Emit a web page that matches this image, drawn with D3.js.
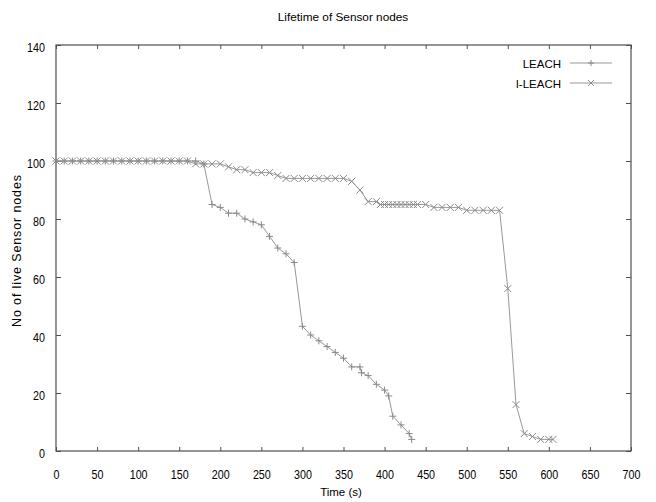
<!DOCTYPE html>
<html>
<head>
<meta charset="utf-8">
<script src="https://cdn.jsdelivr.net/npm/d3@7"></script>
<style>
  html, body { margin: 0; padding: 0; background: #fff; }
  svg { display: block; }
  text { font-family: "Liberation Sans", Arial, sans-serif; fill: #000; }
</style>
</head>
<body>
<svg id="chart" width="656" height="502"></svg>
<script>
// ---- data ----
const title = "Lifetime of Sensor nodes";
const xLabel = "Time (s)";
const yLabel = "No of live Sensor nodes";
const xTicks = [0, 50, 100, 150, 200, 250, 300, 350, 400, 450, 500, 550, 600, 650, 700];
const yTicks = [0, 20, 40, 60, 80, 100, 120, 140];

const leachTime = [0,10,20,30,40,50,60,70,80,90,100,110,120,130,140,150,160,170,180,
  190,200,210,220,230,240,250,260,270,280,290,300,310,320,330,340,350,360,370,372,380,390,400,405,410,420,430,433];
const leachNodes = [100,100,100,100,100,100,100,100,100,100,100,100,100,100,100,100,100,100,99,
  85,84,82,82,80,79,78,74,70,68,65,43,40,38,36,34,32,29,29,27,26,23,21,19,12,9,6,4];

const ileachTime = [0,10,20,30,40,50,60,70,80,90,100,110,120,130,140,150,160,170,180,190,200,
  210,220,230,240,250,260,270,280,290,300,310,320,330,340,350,360,370,380,390,
  395,400,405,410,415,420,425,430,435,440,450,460,470,480,490,500,510,520,530,540,
  550,560,570,580,590,600,605];
const ileachNodes = [100,100,100,100,100,100,100,100,100,100,100,100,100,100,100,100,100,99,99,99,99,
  98,97,97,96,96,96,95,94,94,94,94,94,94,94,94,93,90,86,86,
  85,85,85,85,85,85,85,85,85,85,85,84,84,84,84,83,83,83,83,83,
  56,16,6,5,4,4,4];

const seriesNames = ["LEACH", "I-LEACH"];

// ---- layout ----
const svg = d3.select("#chart");
const xS = d3.scaleLinear().domain([0, 700]).range([56, 631]);
const yS = d3.scaleLinear().domain([0, 140]).range([451, 45]);
const axisColor = "#505050";
const lineColor = "#999";
const markColor = "#8a8a8a";
const fontFam = '"Liberation Sans", Arial, sans-serif';
const squeeze = 0.86;

// frame
svg.append("rect")
  .attr("x", xS(0)).attr("y", yS(140))
  .attr("width", xS(700) - xS(0)).attr("height", yS(0) - yS(140))
  .attr("fill", "none").attr("stroke", axisColor).attr("stroke-width", 1.2);

// axes (inward ticks, mirrored)
const axB = d3.axisBottom(xS).tickValues(xTicks).tickSize(-4).tickPadding(19).tickFormat(d3.format("d"));
const axT = d3.axisTop(xS).tickValues(xTicks).tickSize(-4).tickFormat("");
const axL = d3.axisLeft(yS).tickValues(yTicks).tickSize(-5).tickPadding(11).tickFormat(d3.format("d"));
const axR = d3.axisRight(yS).tickValues(yTicks).tickSize(-5).tickFormat("");

function styleAxis(g) {
  g.select(".domain").remove();
  g.selectAll(".tick line").attr("stroke", axisColor);
  g.selectAll(".tick text").attr("font-size", 12.5).attr("fill", "#000")
    .style("font-family", fontFam);
}
svg.append("g").attr("transform", `translate(0,${yS(0)})`).call(axB).call(styleAxis)
  .selectAll(".tick text").attr("transform", `scale(${squeeze},1)`);
svg.append("g").attr("transform", `translate(0,${yS(140)})`).call(axT).call(styleAxis);
svg.append("g").attr("transform", `translate(${xS(0)},0)`).call(axL).call(styleAxis)
  .selectAll(".tick text").attr("dy", "0.5em")
  .attr("x", -11 / squeeze).attr("transform", `scale(${squeeze},1)`);
svg.append("g").attr("transform", `translate(${xS(700)},0)`).call(axR).call(styleAxis);

// titles
svg.append("text").attr("x", 343).attr("y", 21).attr("text-anchor", "middle")
  .attr("font-size", 11.8).text(title);
svg.append("text").attr("x", 341).attr("y", 496).attr("text-anchor", "middle")
  .attr("font-size", 11.5).text(xLabel);
svg.append("text").attr("transform", "translate(21,251) rotate(-90)").attr("text-anchor", "middle")
  .attr("font-size", 12.5).attr("textLength", 152).attr("lengthAdjust", "spacing").text(yLabel);

// series
const leach = leachTime.map((t, i) => [t, leachNodes[i]]);
const ileach = ileachTime.map((t, i) => [t, ileachNodes[i]]);
const line = d3.line().x(d => xS(d[0])).y(d => yS(d[1]));

function plusPath(cx, cy, s) { return `M${cx - s},${cy}H${cx + s}M${cx},${cy - s}V${cy + s}`; }
function crossPath(cx, cy, s) { return `M${cx - s},${cy - s}L${cx + s},${cy + s}M${cx - s},${cy + s}L${cx + s},${cy - s}`; }

function drawSeries(data, marker) {
  const g = svg.append("g");
  g.append("path").datum(data).attr("d", line)
    .attr("fill", "none").attr("stroke", lineColor).attr("stroke-width", 1);
  g.selectAll("path.m").data(data).enter().append("path").attr("class", "m")
    .attr("d", d => marker(xS(d[0]), yS(d[1]), 3.5))
    .attr("fill", "none").attr("stroke", markColor).attr("stroke-width", 1);
}
drawSeries(ileach, crossPath);
drawSeries(leach, plusPath);

// legend
const legend = [
  { name: seriesNames[0], marker: plusPath, yy: 63 },
  { name: seriesNames[1], marker: crossPath, yy: 83 }
];
legend.forEach(l => {
  svg.append("text").attr("x", 561).attr("y", l.yy + 4.5).attr("text-anchor", "end")
    .attr("font-size", 11.5).text(l.name);
  svg.append("line").attr("x1", 570).attr("x2", 612).attr("y1", l.yy).attr("y2", l.yy)
    .attr("stroke", lineColor).attr("stroke-width", 1);
  svg.append("path").attr("d", l.marker(591, l.yy, 3)).attr("fill", "none")
    .attr("stroke", markColor).attr("stroke-width", 1);
});
</script>
</body>
</html>
